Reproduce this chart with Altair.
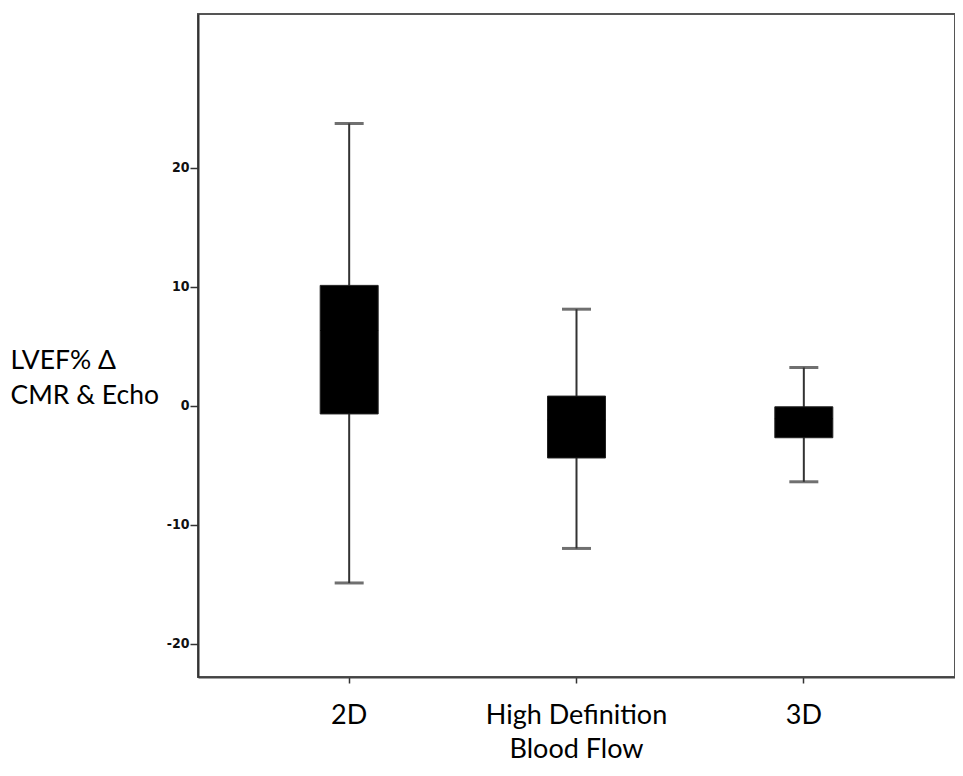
import altair as alt
import pandas as pd

categories = ["2D", "High Definition\nBlood Flow", "3D"]
whisker_low = [-14.9, -12.0, -6.4]
q1 = [-0.7, -4.4, -2.7]
median = [6.3, -1.2, -1.1]
q3 = [10.1, 0.8, -0.1]
whisker_high = [23.7, 8.1, 3.2]
y_ticks = [-20, -10, 0, 10, 20]

df = pd.DataFrame({
    "cat": categories,
    "lo": whisker_low,
    "q1": q1,
    "med": median,
    "q3": q3,
    "hi": whisker_high,
})

xenc = alt.X(
    "cat:N",
    sort=categories,
    scale=alt.Scale(paddingInner=0, paddingOuter=0.165),
    axis=alt.Axis(
        title=None,
        labelAngle=0,
        labelExpr="split(datum.label, '\\n')",
        labelFont="Lato",
        labelFontSize=27,
        labelColor="#000000",
        labelLineHeight=34,
        labelPadding=19,
        labelLimit=0,
        tickSize=6,
        tickColor="#333333",
        tickWidth=1.5,
        domainColor="#444444",
        domainWidth=2,
    ),
)

yscale = alt.Scale(domain=[-22.8, 32.9], nice=False, zero=False)
yaxis = alt.Axis(
    values=y_ticks,
    labelExpr="toString(datum.value)",
    title=["LVEF% \u0394", "CMR & Echo"],
    titleAngle=0,
    titleAlign="left",
    titleBaseline="alphabetic",
    titleX=-188,
    titleY=354,
    titleFont="Lato",
    titleFontSize=26.5,
    titleFontWeight="normal",
    titleLineHeight=35,
    titleColor="#000000",
    labelFont="DejaVu Sans Condensed",
    labelFontWeight="bold",
    labelFontSize=14,
    labelColor="#111111",
    labelPadding=1,
    tickSize=8,
    tickColor="#333333",
    tickWidth=1.5,
    domainColor="#333333",
    domainWidth=2,
    grid=False,
)

base = alt.Chart(df)

whiskers = base.mark_rule(color="#333333", strokeWidth=2).encode(
    x=xenc,
    y=alt.Y("lo:Q", scale=yscale, axis=yaxis),
    y2="hi:Q",
)

caps_low = base.mark_tick(color="#333333", size=29, thickness=3).encode(
    x=xenc, y=alt.Y("lo:Q", scale=yscale)
)
caps_high = base.mark_tick(color="#333333", size=29, thickness=3).encode(
    x=xenc, y=alt.Y("hi:Q", scale=yscale)
)

box = base.mark_bar(size=58, color="#000000", stroke="#222222", strokeWidth=1).encode(
    x=xenc, y=alt.Y("q1:Q", scale=yscale), y2="q3:Q"
)

med = base.mark_tick(color="#000000", size=58, thickness=1).encode(
    x=xenc, y=alt.Y("med:Q", scale=yscale)
)

chart = (
    alt.layer(whiskers, caps_low, caps_high, box, med)
    .properties(
        width=757,
        height=663,
        autosize=alt.AutoSizeParams(type="none"),
        padding={"left": 190, "top": 6, "right": 0, "bottom": 88},
    )
    .configure(background="#ffffff")
    .configure_view(stroke="#555555", strokeWidth=2)
)

chart.save("out.html", embed_options={"renderer": "svg", "actions": False})
